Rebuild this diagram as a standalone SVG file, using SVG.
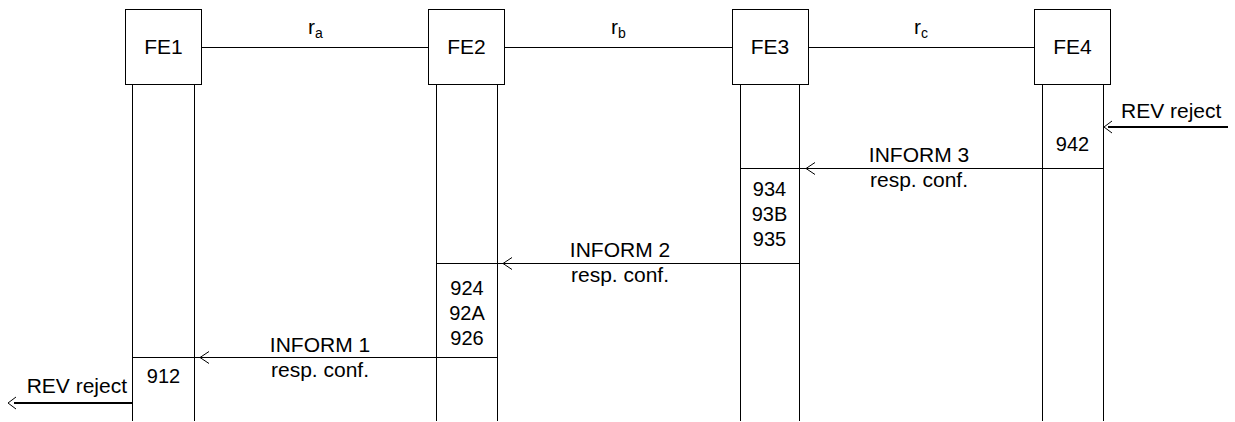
<svg xmlns="http://www.w3.org/2000/svg" width="1235" height="422" viewBox="0 0 1235 422">
<style>
.box{fill:#fff;stroke:#000;stroke-width:1}
.ln{stroke:#000;stroke-width:1;fill:none}
.thk{stroke:#000;stroke-width:2;fill:none}
.hd{stroke:#000;stroke-width:1;fill:none}
text{font-family:"Liberation Sans",Arial,sans-serif;font-size:21px;fill:#000}
.n{font-size:20px}
.c{text-anchor:middle}
.e{text-anchor:end}
.sub{font-size:14px}
</style>
<rect width="1235" height="422" fill="#fff"/>
<g id="connectors">
<line class="ln" x1="202" y1="47.5" x2="428" y2="47.5"/>
<line class="ln" x1="504" y1="47.5" x2="732" y2="47.5"/>
<line class="ln" x1="808" y1="47.5" x2="1034" y2="47.5"/>
<text x="308" y="34">r<tspan class="sub" dy="4">a</tspan></text>
<text x="611" y="34">r<tspan class="sub" dy="4">b</tspan></text>
<text x="914" y="34">r<tspan class="sub" dy="4">c</tspan></text>
<!-- REV reject in -->
<line class="thk" x1="1108" y1="127" x2="1228" y2="127"/>
<polyline class="hd" points="1112,121 1104,127 1112,133"/>
<text x="1121" y="118">REV reject</text>
<!-- INFORM 3 -->
<line class="ln" x1="740" y1="168.5" x2="1103" y2="168.5"/>
<polyline class="hd" points="815,162.5 806,168.5 815,174.5"/>
<text class="c" x="919" y="162">INFORM 3</text>
<text class="c" x="919" y="187">resp. conf.</text>
<!-- INFORM 2 -->
<line class="ln" x1="436" y1="263.5" x2="799" y2="263.5"/>
<polyline class="hd" points="512,257.5 503,263.5 512,269.5"/>
<text class="c" x="620" y="257">INFORM 2</text>
<text class="c" x="620" y="282">resp. conf.</text>
<!-- INFORM 1 -->
<line class="ln" x1="132" y1="357.5" x2="497" y2="357.5"/>
<polyline class="hd" points="209,351.5 200,357.5 209,363.5"/>
<text class="c" x="320" y="352">INFORM 1</text>
<text class="c" x="320" y="377">resp. conf.</text>
<!-- REV reject out -->
<line class="thk" x1="14" y1="403" x2="132" y2="403"/>
<polyline class="hd" points="16,397 8,403 16,409"/>
<text class="e" x="127" y="393">REV reject</text>
</g>
<g id="FE1">
<line class="ln" x1="132.5" y1="84" x2="132.5" y2="421"/>
<line class="ln" x1="194.5" y1="84" x2="194.5" y2="421"/>
<rect class="box" x="125.5" y="9.5" width="76" height="75"/>
<text class="c" x="163.5" y="54">FE1</text>
<text class="c n" x="163.5" y="383">912</text>
</g>
<g id="FE2">
<line class="ln" x1="436.5" y1="84" x2="436.5" y2="421"/>
<line class="ln" x1="497.5" y1="84" x2="497.5" y2="421"/>
<rect class="box" x="428.5" y="9.5" width="76" height="75"/>
<text class="c" x="466.5" y="54">FE2</text>
<text class="c n" x="467" y="295">924</text>
<text class="c n" x="467" y="320">92A</text>
<text class="c n" x="467" y="345">926</text>
</g>
<g id="FE3">
<line class="ln" x1="740.5" y1="84" x2="740.5" y2="421"/>
<line class="ln" x1="799.5" y1="84" x2="799.5" y2="421"/>
<rect class="box" x="732.5" y="9.5" width="76" height="75"/>
<text class="c" x="770" y="54">FE3</text>
<text class="c n" x="769.5" y="196">934</text>
<text class="c n" x="769.5" y="221">93B</text>
<text class="c n" x="769.5" y="246">935</text>
</g>
<g id="FE4">
<line class="ln" x1="1042.5" y1="84" x2="1042.5" y2="421"/>
<line class="ln" x1="1103.5" y1="84" x2="1103.5" y2="421"/>
<rect class="box" x="1034.5" y="9.5" width="76" height="75"/>
<text class="c" x="1072.5" y="54">FE4</text>
<text class="c n" x="1072.5" y="151">942</text>
</g>
</svg>
